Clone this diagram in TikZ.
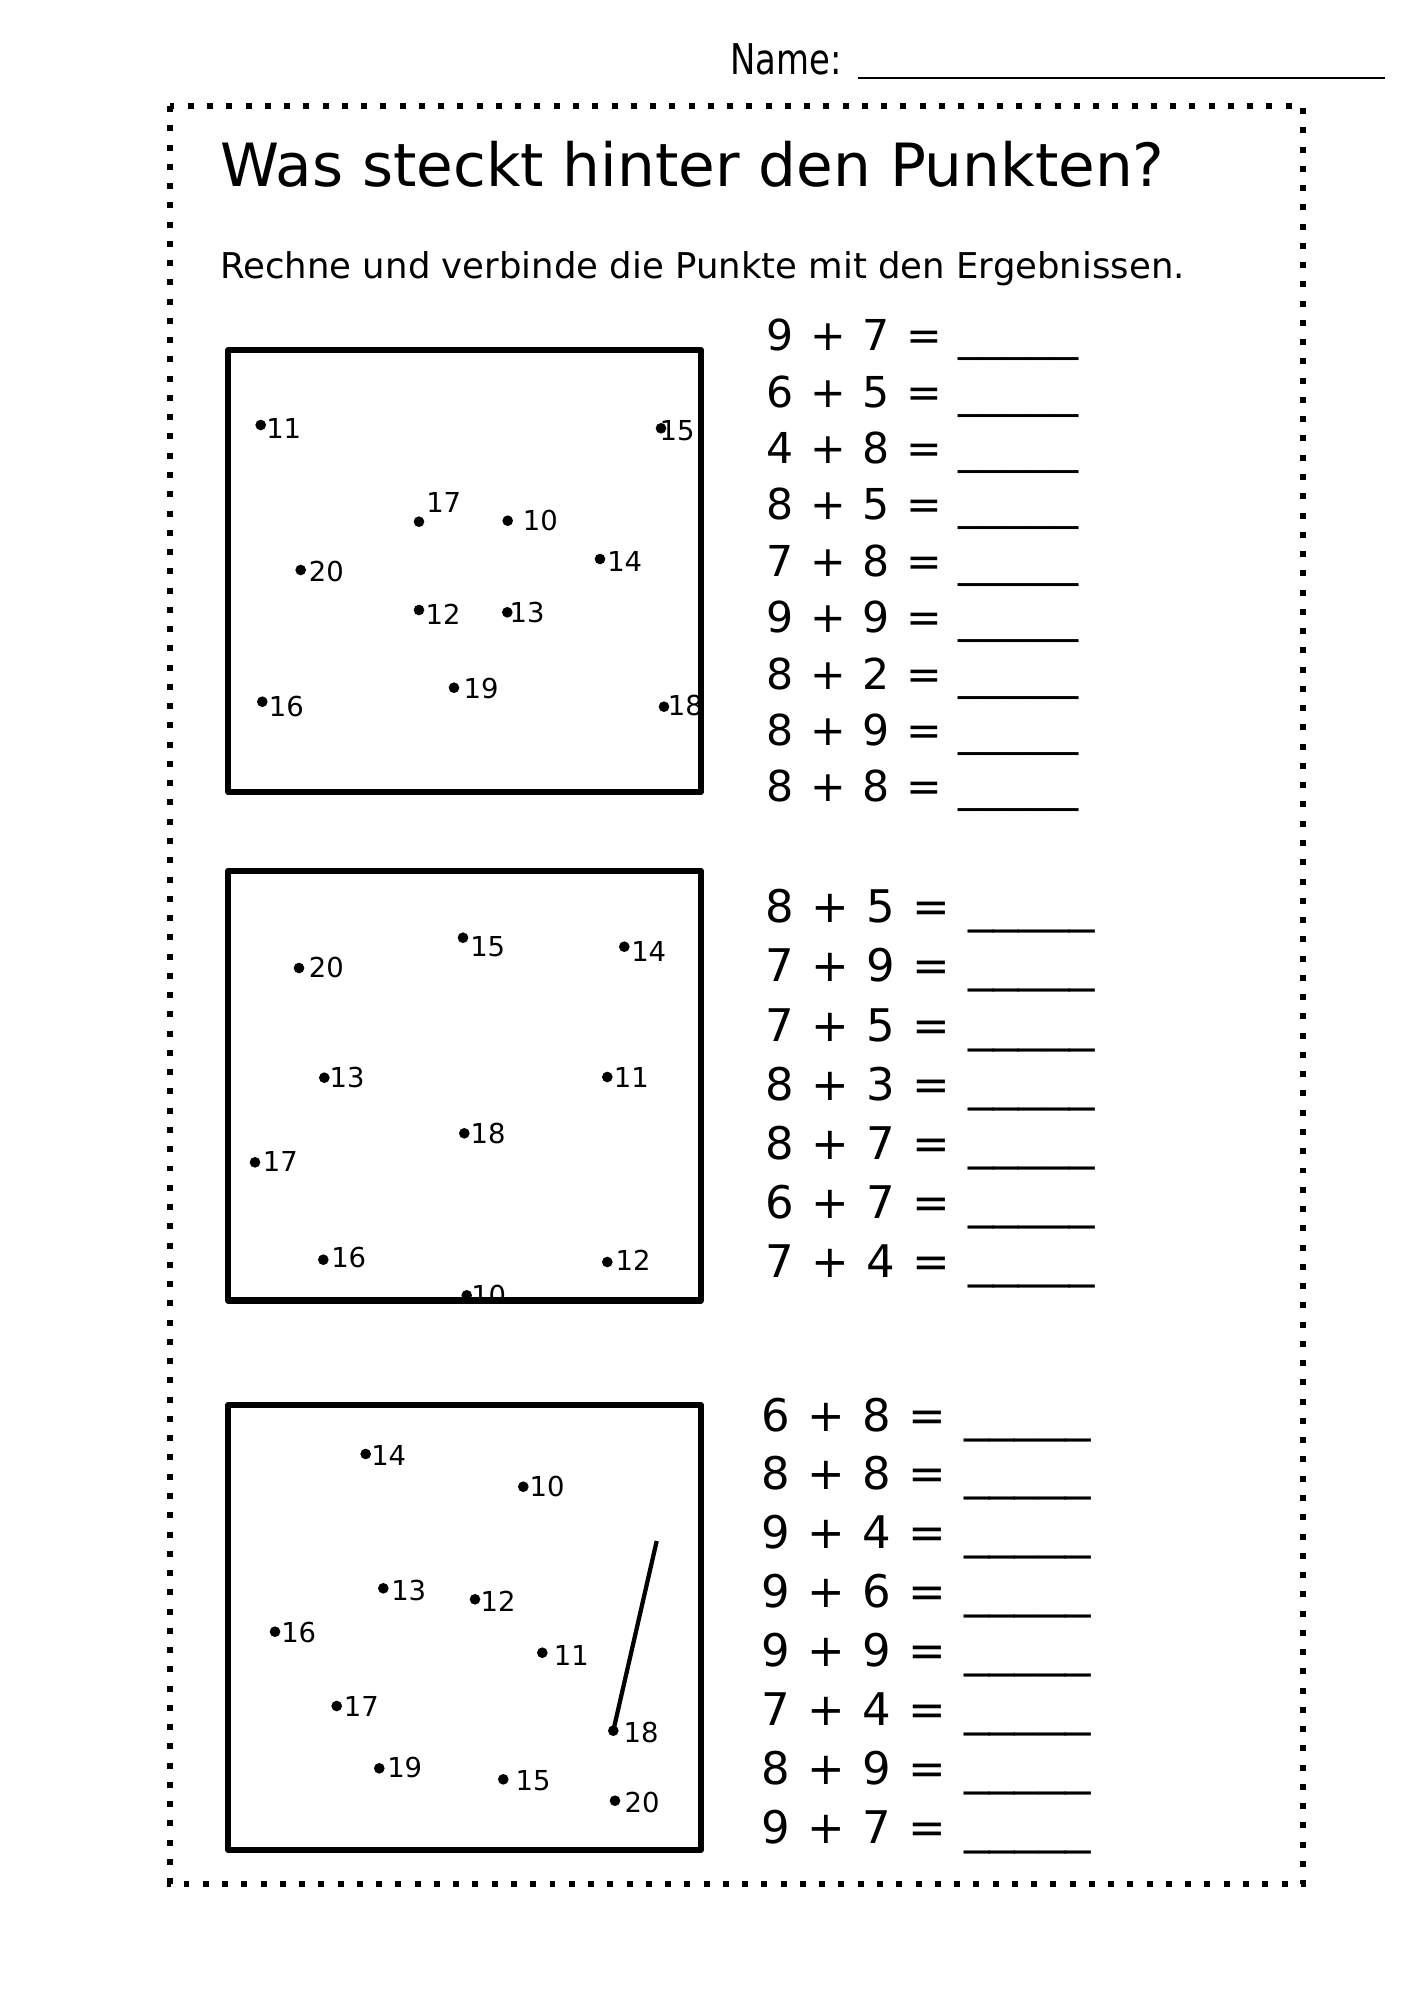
\documentclass[tikz,border=0pt]{standalone}
\usepackage{fontspec}
\usepackage{graphicx}
\setmainfont{DejaVu Sans}
\newcommand{\blank}{\scalebox{1.13}[1]{\_\_\_\_\_}}
\tikzset{
  frame/.style={line width=2.53pt, dash pattern=on 2.53pt off 5.61pt},
  sheetbox/.style={line width=2.7pt, line join=round},
  dot/.style={circle, fill, inner sep=0pt, minimum size=4.5pt},
  num/.style={anchor=base west, inner sep=0pt, font=\fontsize{11.6pt}{13pt}\selectfont},
  txt/.style={anchor=base west, inner sep=0pt},
  taskA/.style={txt, font=\fontsize{18pt}{20pt}\selectfont, execute at begin node={\spaceskip=0.39em\relax}},
  taskB/.style={txt, font=\fontsize{19pt}{21pt}\selectfont, execute at begin node={\spaceskip=0.39em\relax}}
}
\begin{document}
\begin{tikzpicture}[x=0.14851mm, y=-0.14851mm]
  \useasboundingbox (0,0) rectangle (1414,2000);
  % header
  \node[txt, font=\fontsize{17.9pt}{20pt}\selectfont] (name) at (730,74) {\scalebox{0.8}[1]{Name:}};
  \coordinate (nl) at (858,78.3);
  \coordinate (nr) at (1385,78.3);
  \draw[line width=1pt] (nl) -- (nr);
  \draw[frame] (170,106) rectangle (1303,1884);
  \node[txt, font=\fontsize{25.2pt}{28pt}\selectfont] (title) at (220,186) {Was steckt hinter den Punkten?};
  \node[txt, font=\fontsize{15pt}{18pt}\selectfont] (task) at (220,278) {Rechne und verbinde die Punkte mit den Ergebnissen.};

  % first box
  \begin{scope}
    \clip (228.3,350) rectangle (700.8,791.7);
    \node[dot] (a11) at (260.7,425) {};   \node[num] (ta11) at (265.8,438.3) {11};
    \node[dot] (a15) at (661,428.3) {};   \node[num] (ta15) at (659.2,440) {15};
    \node[dot] (a17) at (419,521.7) {};   \node[num] (ta17) at (425.8,512.3) {17};
    \node[dot] (a10) at (507.7,520.7) {}; \node[num] (ta10) at (522.5,530) {10};
    \node[dot] (a14) at (600,559) {};     \node[num] (ta14) at (606.8,571.7) {14};
    \node[dot] (a20) at (300.7,570) {};   \node[num] (ta20) at (308.5,581.7) {20};
    \node[dot] (a12) at (419,610) {};     \node[num] (ta12) at (425.2,624) {12};
    \node[dot] (a13) at (507.3,612.3) {}; \node[num] (ta13) at (509.2,622.3) {13};
    \node[dot] (a19) at (454,687.7) {};   \node[num] (ta19) at (463.2,698.3) {19};
    \node[dot] (a16) at (262.3,701.7) {}; \node[num] (ta16) at (268.5,716) {16};
    \node[dot] (a18) at (664,706.7) {};   \node[num] (ta18) at (667.5,715) {18};
  \end{scope}
  \draw[sheetbox] (228.3,350) rectangle (700.8,791.7);

  \node[taskA] (s1) at (766,350.7) {9 + 7 = \blank};
  \node[taskA] (s2) at (766,407.1) {6 + 5 = \blank};
  \node[taskA] (s3) at (766,463.5) {4 + 8 = \blank};
  \node[taskA] (s4) at (766,519.9) {8 + 5 = \blank};
  \node[taskA] (s5) at (766,576.3) {7 + 8 = \blank};
  \node[taskA] (s6) at (766,632.7) {9 + 9 = \blank};
  \node[taskA] (s7) at (766,689.1) {8 + 2 = \blank};
  \node[taskA] (s8) at (766,745.5) {8 + 9 = \blank};
  \node[taskA] (s9) at (766,801.9) {8 + 8 = \blank};

  % second box
  \begin{scope}
    \clip (228.3,870.7) rectangle (700.8,1300.3);
    \node[dot] (b15) at (463,937.7) {};    \node[num] (tb15) at (469.8,956) {15};
    \node[dot] (b14) at (624.3,946.7) {};  \node[num] (tb14) at (630.8,961.7) {14};
    \node[dot] (b20) at (299,968) {};      \node[num] (tb20) at (308.5,977.7) {20};
    \node[dot] (b13) at (324.3,1077.7) {}; \node[num] (tb13) at (329.2,1087.3) {13};
    \node[dot] (b11) at (607.3,1077) {};   \node[num] (tb11) at (613.5,1087.3) {11};
    \node[dot] (b18) at (464.3,1133.3) {}; \node[num] (tb18) at (470.2,1143.3) {18};
    \node[dot] (b17) at (255,1162.3) {};   \node[num] (tb17) at (262.5,1171.7) {17};
    \node[dot] (b16) at (323.3,1259.7) {}; \node[num] (tb16) at (330.8,1267.7) {16};
    \node[dot] (b12) at (607.3,1262) {};   \node[num] (tb12) at (615.2,1270.7) {12};
    \node[dot] (b10) at (466.7,1295.3) {}; \node[num] (tb10) at (470.8,1305.3) {10};
  \end{scope}
  \draw[sheetbox] (228.3,870.7) rectangle (700.8,1300.3);

  \node[taskB] (t1) at (765,922.7) {8 + 5 = \blank};
  \node[taskB] (t2) at (765,981.8) {7 + 9 = \blank};
  \node[taskB] (t3) at (765,1041) {7 + 5 = \blank};
  \node[taskB] (t4) at (765,1100) {8 + 3 = \blank};
  \node[taskB] (t5) at (765,1159) {8 + 7 = \blank};
  \node[taskB] (t6) at (765,1218.3) {6 + 7 = \blank};
  \node[taskB] (t7) at (765,1277.3) {7 + 4 = \blank};

  % third box
  \begin{scope}
    \clip (228.3,1405) rectangle (700.8,1849.7);
    \node[dot] (c14) at (365.7,1454) {};   \node[num] (tc14) at (370.8,1465) {14};
    \node[dot] (c10) at (523.3,1486.7) {}; \node[num] (tc10) at (529.2,1496.7) {10};
    \node[dot] (c13) at (383.3,1588.3) {}; \node[num] (tc13) at (390.8,1600.7) {13};
    \node[dot] (c12) at (475,1599.3) {};   \node[num] (tc12) at (480.2,1611.7) {12};
    \node[dot] (c16) at (275,1631.7) {};   \node[num] (tc16) at (280.8,1642.7) {16};
    \node[dot] (c11) at (542.3,1652.7) {}; \node[num] (tc11) at (553.5,1665.7) {11};
    \node[dot] (c17) at (336.7,1706) {};   \node[num] (tc17) at (343.5,1716.7) {17};
    \node[dot] (c18) at (613.3,1730.7) {}; \node[num] (tc18) at (623.2,1742.7) {18};
    \node[dot] (c19) at (379.3,1768.3) {}; \node[num] (tc19) at (386.8,1777.7) {19};
    \node[dot] (c15) at (503.3,1779.3) {}; \node[num] (tc15) at (515.2,1790.7) {15};
    \node[dot] (c20) at (615,1800.7) {};   \node[num] (tc20) at (624.2,1812.7) {20};
    \coordinate (pen) at (656.7,1541);
    \draw[line width=1.8pt] (pen) -- (c18.center);
  \end{scope}
  \draw[sheetbox] (228.3,1405) rectangle (700.8,1849.7);

  \node[taskB] (u1) at (761,1431) {6 + 8 = \blank};
  \node[taskB] (u2) at (761,1489.3) {8 + 8 = \blank};
  \node[taskB] (u3) at (761,1548.3) {9 + 4 = \blank};
  \node[taskB] (u4) at (761,1607.3) {9 + 6 = \blank};
  \node[taskB] (u5) at (761,1666) {9 + 9 = \blank};
  \node[taskB] (u6) at (761,1725.7) {7 + 4 = \blank};
  \node[taskB] (u7) at (761,1784.3) {8 + 9 = \blank};
  \node[taskB] (u8) at (761,1843.3) {9 + 7 = \blank};
\end{tikzpicture}
\end{document}
